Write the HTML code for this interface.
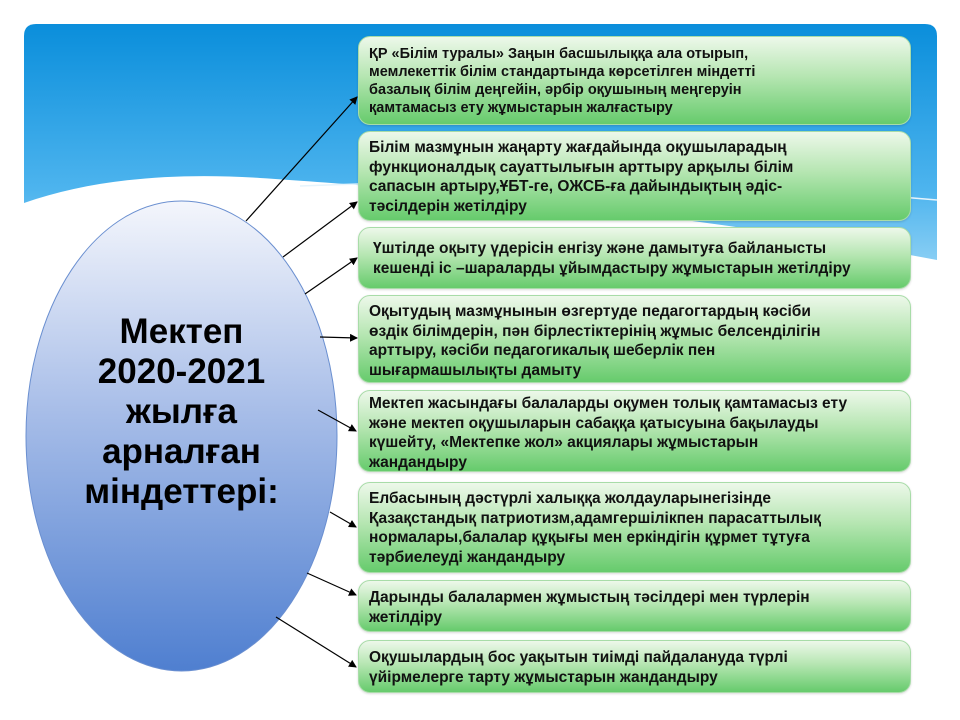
<!DOCTYPE html>
<html><head><meta charset="utf-8"><style>
body{margin:0;width:960px;height:720px;background:#fff;position:relative;overflow:hidden;font-family:"Liberation Sans","DejaVu Sans",sans-serif}
.box{position:absolute;left:358px;width:553px;box-sizing:border-box;border:1px solid #a8dca8;border-radius:12px;background:linear-gradient(#edf8ea,#b6e6b2 45%,#66cb6c);padding:6px 0 0 10px;font-weight:bold;font-size:15.5px;line-height:19.5px;color:#111;white-space:nowrap;box-shadow:0 1px 2px rgba(0,0,0,.15)}
.ell{position:absolute;font-weight:bold;font-size:35px;line-height:40px;text-align:center;left:26px;width:311px;top:312px;color:#000}
</style></head><body>
<svg width="960" height="720" style="position:absolute;left:0;top:0">
<defs>
<linearGradient id="sky" x1="0" y1="0" x2="0" y2="1"><stop offset="0" stop-color="#0a8edb"/><stop offset="0.6" stop-color="#4db4ee"/><stop offset="1" stop-color="#a9dcf7"/></linearGradient>
<linearGradient id="eg" x1="0" y1="0" x2="0" y2="1"><stop offset="0" stop-color="#f4f6fc"/><stop offset="0.45" stop-color="#a7bde8"/><stop offset="1" stop-color="#4f7fd0"/></linearGradient>
<marker id="a" markerWidth="8" markerHeight="8" refX="7" refY="4" orient="auto" markerUnits="userSpaceOnUse"><path d="M0,0 L8,4 L0,8z" fill="#000"/></marker>
</defs>
<path d="M24,36 Q24,24 36,24 L925,24 Q937,24 937,36 L937,300 L24,300z" fill="url(#sky)"/>
<path d="M24,203 C90,180 170,172 260,178 C420,188 700,215 937,260 L937,720 L24,720z" fill="#fff"/>
<path d="M300,186 C500,178 700,180 937,200" stroke="#e6f4fc" stroke-width="1.5" fill="none"/>
<ellipse cx="181.5" cy="436" rx="155.5" ry="235" fill="url(#eg)" stroke="#6a8fd0" stroke-width="1"/>
<g stroke="#000" stroke-width="1.2" marker-end="url(#a)">
<line x1="246" y1="221" x2="357" y2="97"/>
<line x1="283" y1="257" x2="357" y2="202"/>
<line x1="305" y1="294" x2="357" y2="258"/>
<line x1="320" y1="337" x2="357" y2="338"/>
<line x1="318" y1="410" x2="356" y2="431"/>
<line x1="330" y1="512" x2="356" y2="527"/>
<line x1="307" y1="573" x2="356" y2="595"/>
<line x1="276" y1="617" x2="356" y2="667"/>
</g>
</svg>
<div class="ell">Мектеп<br>2020-2021<br>жылға<br>арналған<br>міндеттері:</div>
<div class="box" style="top:36px;height:89px;padding-top:8px;font-size:14.5px;line-height:18px">ҚР «Білім туралы» Заңын басшылыққа ала отырып,<br>мемлекеттік білім стандартында көрсетілген міндетті<br>базалық білім деңгейін, әрбір оқушының меңгеруін<br>қамтамасыз ету жұмыстарын жалғастыру</div>
<div class="box" style="top:131px;height:90px">Білім мазмұнын жаңарту жағдайында оқушыларадың<br>функционалдық сауаттылығын арттыру арқылы білім<br>сапасын артыру,ҰБТ-ге, ОЖСБ-ға дайындықтың әдіс-<br>тәсілдерін жетілдіру</div>
<div class="box" style="top:227px;height:62px;padding-top:11px;padding-left:14px">Үштілде оқыту үдерісін енгізу және дамытуға байланысты<br>кешенді іс –шараларды ұйымдастыру жұмыстарын жетілдіру</div>
<div class="box" style="top:295px;height:88px">Оқытудың мазмұнынын өзгертуде педагогтардың кәсіби<br>өздік білімдерін, пән бірлестіктерінің жұмыс белсенділігін<br>арттыру, кәсіби педагогикалық шеберлік пен<br>шығармашылықты дамыту</div>
<div class="box" style="top:390px;height:82px;padding-top:3px">Мектеп жасындағы балаларды оқумен толық қамтамасыз ету<br>және мектеп оқушыларын сабаққа қатысуына бақылауды<br>күшейту, «Мектепке жол» акциялары жұмыстарын<br>жандандыру</div>
<div class="box" style="top:482px;height:91px">Елбасының дәстүрлі халыққа жолдауларынегізінде<br>Қазақстандық патриотизм,адамгершілікпен парасаттылық<br>нормалары,балалар құқығы мен еркіндігін құрмет тұтуға<br>тәрбиелеуді жандандыру</div>
<div class="box" style="top:580px;height:52px;padding-top:7px">Дарынды балалармен жұмыстың тәсілдері мен түрлерін<br>жетілдіру</div>
<div class="box" style="top:640px;height:53px;padding-top:7px">Оқушылардың бос уақытын тиімді пайдалануда түрлі<br>үйірмелерге тарту жұмыстарын жандандыру</div>
</body></html>
